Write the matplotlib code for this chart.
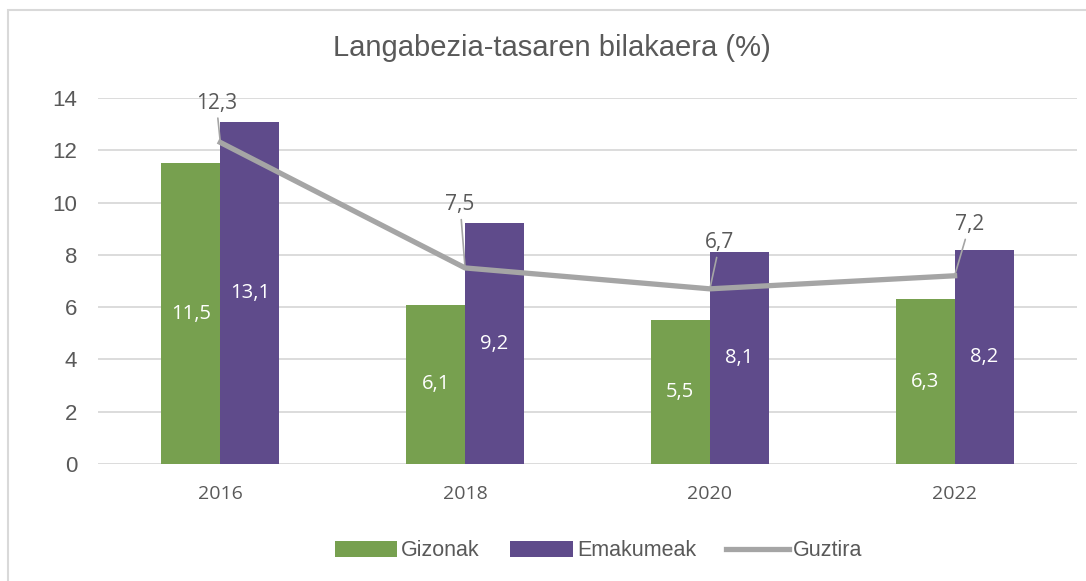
import numpy as np
from matplotlib import pyplot as plt
from matplotlib.patches import Rectangle

years = ['2016', '2018', '2020', '2022']
gizonak = [11.5, 6.1, 5.5, 6.3]
emakumeak = [13.1, 9.2, 8.1, 8.2]
guztira = [12.3, 7.5, 6.7, 7.2]

green = '#77A04F'
purple = '#5F4B8B'
grey = '#A5A5A5'
text_col = '#595959'
label_font = 'Open Sans'

fig = plt.figure(figsize=(10.86, 5.81), dpi=100)
ax = fig.add_axes([0.0902, 0.2014, 0.9015, 0.6299])

# light frame (only left / top visible in original crop)
fig.patches.append(Rectangle((7.5 / 1086, -0.05), 1.2, 1 - 9.5 / 581 + 0.05,
                             transform=fig.transFigure, fill=False,
                             edgecolor='#D9D9D9', linewidth=1.5))

x = np.arange(len(years))
w = 0.241
b1 = ax.bar(x - w / 2, gizonak, w, color=green, label='Gizonak', zorder=2)
b2 = ax.bar(x + w / 2, emakumeak, w, color=purple, label='Emakumeak', zorder=2)
line, = ax.plot(x, guztira, color=grey, linewidth=3.8, label='Guztira', zorder=3)

# labels inside the bars
for bars, vals in [(b1, gizonak), (b2, emakumeak)]:
    for bar, v in zip(bars, vals):
        ax.text(bar.get_x() + bar.get_width() / 2, v / 2, f'{v:.1f}'.replace('.', ','),
                ha='center', va='center', color='white', fontsize=14.5,
                family=label_font, zorder=4)

# labels for the total line, with leader lines
offsets = [(-4, 39), (-5, 63), (10, 46), (15, 51)]
for xi, v, (dx, dy) in zip(x, guztira, offsets):
    ax.annotate(f'{v:.1f}'.replace('.', ','), xy=(xi, v),
                xytext=(dx * 0.72, dy * 0.72), textcoords='offset points',
                ha='center', va='center', fontsize=15, color=text_col,
                family=label_font,
                arrowprops=dict(arrowstyle='-', color=grey, lw=1.2,
                                shrinkA=1, shrinkB=0),
                zorder=5)

ax.set_xlim(-0.5, 3.5)
ax.set_ylim(0, 14)
ax.set_yticks(range(0, 15, 2))
ax.set_xticks(x)
ax.set_xticklabels(years, family=label_font, fontsize=14, color=text_col)
ax.tick_params(axis='y', labelsize=16, colors=text_col, length=0, pad=15)
ax.tick_params(axis='x', length=0, pad=15)
ax.grid(axis='y', color='#D9D9D9', linewidth=1.3, zorder=0)
ax.set_axisbelow(True)
for s in ax.spines.values():
    s.set_visible(False)

for lab in ax.get_yticklabels():
    lab.set_family('Liberation Sans')

fig.text(0.508, 0.918, 'Langabezia-tasaren bilakaera (%)', ha='center', va='center',
         fontsize=21, color=text_col, family='Liberation Sans')

fig.legend(handles=[b1, b2, line], loc='center', bbox_to_anchor=(0.551, 0.052), ncol=3,
           frameon=False, prop={'family': 'Liberation Sans', 'size': 15.5},
           labelcolor=text_col, handlelength=2.9, handleheight=0.75,
           handletextpad=0.2, columnspacing=1.4)

plt.savefig('out.png', dpi=100)
